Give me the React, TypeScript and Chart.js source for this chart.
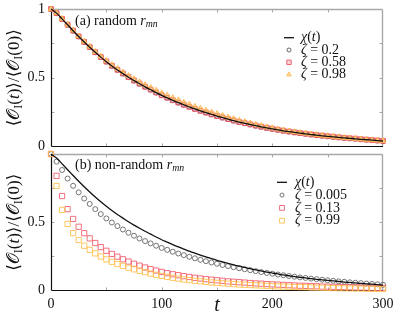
import React, { useEffect, useRef } from "react";
import { Chart, registerables } from "chart.js";

Chart.register(...registerables);

const tValues = [
  0, 5, 10, 15, 20, 25, 30, 35, 40, 45, 50, 55, 60, 65, 70, 75, 80, 85, 90, 95,
  100, 105, 110, 115, 120, 125, 130, 135, 140, 145, 150, 155, 160, 165, 170, 175, 180, 185, 190, 195,
  200, 205, 210, 215, 220, 225, 230, 235, 240, 245, 250, 255, 260, 265, 270, 275, 280, 285, 290, 295, 300,
];

const chi = [
  1.0, 0.97, 0.928, 0.885, 0.842, 0.8, 0.76, 0.722, 0.685, 0.65, 0.617, 0.586, 0.557, 0.53, 0.504, 0.479, 0.456, 0.434, 0.413, 0.392,
  0.372, 0.354, 0.336, 0.319, 0.303, 0.288, 0.273, 0.259, 0.246, 0.233, 0.221, 0.21, 0.199, 0.188, 0.178, 0.169, 0.16, 0.151, 0.143, 0.135,
  0.128, 0.121, 0.114, 0.108, 0.102, 0.097, 0.092, 0.087, 0.082, 0.078, 0.074, 0.07, 0.066, 0.062, 0.059, 0.056, 0.052, 0.049, 0.046, 0.043, 0.04,
];

const topZeta02 = [
  1.0, 0.969, 0.927, 0.885, 0.842, 0.8, 0.76, 0.722, 0.685, 0.65, 0.617, 0.586, 0.557, 0.53, 0.504, 0.479, 0.456, 0.434, 0.413, 0.392,
  0.372, 0.354, 0.336, 0.319, 0.303, 0.288, 0.273, 0.259, 0.246, 0.233, 0.221, 0.21, 0.199, 0.188, 0.178, 0.169, 0.16, 0.151, 0.143, 0.135,
  0.128, 0.121, 0.114, 0.108, 0.102, 0.097, 0.092, 0.087, 0.082, 0.078, 0.074, 0.07, 0.066, 0.062, 0.059, 0.056, 0.052, 0.049, 0.046, 0.043, 0.04,
];

const topZeta058 = [
  1.0, 0.97, 0.928, 0.886, 0.843, 0.801, 0.761, 0.723, 0.686, 0.651, 0.618, 0.587, 0.558, 0.531, 0.505, 0.48, 0.457, 0.435, 0.414, 0.393,
  0.373, 0.355, 0.337, 0.32, 0.304, 0.289, 0.274, 0.26, 0.247, 0.234, 0.222, 0.211, 0.2, 0.189, 0.179, 0.17, 0.161, 0.152, 0.144, 0.136,
  0.129, 0.122, 0.115, 0.109, 0.103, 0.098, 0.093, 0.088, 0.083, 0.079, 0.075, 0.071, 0.067, 0.063, 0.06, 0.057, 0.053, 0.05, 0.047, 0.044, 0.041,
];

const topZeta098 = [
  1.0, 0.971, 0.93, 0.887, 0.845, 0.803, 0.764, 0.727, 0.69, 0.656, 0.624, 0.594, 0.566, 0.54, 0.515, 0.491, 0.469, 0.448, 0.428, 0.408,
  0.389, 0.371, 0.354, 0.337, 0.321, 0.306, 0.291, 0.277, 0.263, 0.25, 0.237, 0.225, 0.213, 0.201, 0.19, 0.18, 0.17, 0.16, 0.151, 0.142,
  0.134, 0.126, 0.119, 0.112, 0.106, 0.1, 0.095, 0.09, 0.085, 0.08, 0.076, 0.072, 0.068, 0.064, 0.06, 0.057, 0.053, 0.05, 0.047, 0.044, 0.041,
];

const botZeta0005 = [
  1.0, 0.944, 0.883, 0.82, 0.767, 0.719, 0.674, 0.634, 0.596, 0.56, 0.528, 0.498, 0.472, 0.447, 0.423, 0.401, 0.381, 0.362, 0.345, 0.328,
  0.312, 0.298, 0.284, 0.271, 0.259, 0.247, 0.236, 0.225, 0.215, 0.205, 0.196, 0.187, 0.179, 0.171, 0.163, 0.156, 0.149, 0.142, 0.135, 0.129,
  0.123, 0.117, 0.112, 0.106, 0.101, 0.096, 0.092, 0.087, 0.083, 0.079, 0.075, 0.071, 0.067, 0.064, 0.06, 0.057, 0.054, 0.051, 0.048, 0.045, 0.042,
];

const botZeta013 = [
  1.0, 0.84, 0.692, 0.596, 0.524, 0.467, 0.42, 0.382, 0.348, 0.318, 0.291, 0.268, 0.248, 0.229, 0.212, 0.196, 0.182, 0.169, 0.157, 0.146,
  0.136, 0.127, 0.119, 0.112, 0.105, 0.099, 0.093, 0.088, 0.083, 0.079, 0.075, 0.071, 0.067, 0.064, 0.061, 0.058, 0.055, 0.052, 0.05, 0.047,
  0.045, 0.043, 0.041, 0.039, 0.037, 0.035, 0.034, 0.032, 0.031, 0.029, 0.028, 0.027, 0.026, 0.025, 0.024, 0.023, 0.022, 0.021, 0.02, 0.019, 0.018,
];

const botZeta099 = [
  1.0, 0.766, 0.59, 0.488, 0.42, 0.37, 0.328, 0.298, 0.272, 0.249, 0.228, 0.21, 0.194, 0.18, 0.167, 0.155, 0.144, 0.134, 0.124, 0.115,
  0.107, 0.1, 0.093, 0.087, 0.081, 0.076, 0.071, 0.067, 0.063, 0.059, 0.056, 0.053, 0.05, 0.047, 0.044, 0.042, 0.04, 0.038, 0.036, 0.034,
  0.032, 0.03, 0.029, 0.027, 0.026, 0.025, 0.024, 0.022, 0.021, 0.02, 0.019, 0.018, 0.017, 0.016, 0.015, 0.015, 0.014, 0.013, 0.012, 0.012, 0.011,
];

const xTickLabels = ["0", "100", "200", "300"];
const topYTickLabels = ["0", "0.5", "1"];
const botYTickLabels = ["0", "0.5", ""];
const minorXTicks = [50, 100, 150, 200, 250];
const minorYTicks = [0.25, 0.5, 0.75];

const topLegend = ["χ(t)", "ζ = 0.2", "ζ = 0.58", "ζ = 0.98"];
const botLegend = ["χ(t)", "ζ = 0.005", "ζ = 0.13", "ζ = 0.99"];

const FONT = "'Liberation Serif', 'DejaVu Serif', serif";

type Seg = { t: string; i?: boolean; sub?: boolean };

function drawRich(ctx: CanvasRenderingContext2D, x: number, y: number, segs: Seg[], size: number, draw = true) {
  let cx = x;
  for (const s of segs) {
    const fs = s.sub ? size * 0.7 : size;
    ctx.font = `${s.i ? "italic " : ""}${fs}px ${FONT}`;
    if (draw) ctx.fillText(s.t, cx, s.sub ? y + size * 0.25 : y);
    cx += ctx.measureText(s.t).width;
  }
  return cx - x;
}

function mathSegs(s: string): Seg[] {
  const out: Seg[] = [];
  for (const ch of s) out.push({ t: ch, i: "χζt".includes(ch) });
  return out;
}

const toPts = (ys: number[]) => tValues.map((t, i) => ({ x: t, y: ys[i] }));

const decorPlugin = {
  id: "panelDecor",
  beforeDraw(chart: any) {
    const { ctx, chartArea } = chart;
    const { top, bottom } = chartArea;
    ctx.save();
    ctx.fillStyle = "#111";
    ctx.textBaseline = "middle";
    ctx.textAlign = "left";
    const ySegs: Seg[] = [
      { t: "⟨𝒪" },
      { t: "I", sub: true },
      { t: "(" },
      { t: "t", i: true },
      { t: ")⟩/⟨𝒪" },
      { t: "I", sub: true },
      { t: "(0)⟩" },
    ];
    const ysz = 17;
    const w = drawRich(ctx, 0, 0, ySegs, ysz, false);
    ctx.translate(15, (top + bottom) / 2);
    ctx.rotate(-Math.PI / 2);
    drawRich(ctx, -w / 2, 0, ySegs, ysz);
    ctx.restore();
  },
  beforeDatasetsDraw(chart: any) {
    const { ctx, chartArea } = chart;
    const { left, right, top, bottom } = chartArea;
    const xs = chart.scales.x;
    const ys = chart.scales.y;
    const L = Math.round(left) + 0.5;
    const R = Math.round(right) - 0.5;
    const T = Math.round(top) + 0.5;
    const B = Math.round(bottom) - 0.5;
    const seg = (a: number, b: number, c: number, d: number) => {
      ctx.beginPath();
      ctx.moveTo(a, b);
      ctx.lineTo(c, d);
      ctx.stroke();
    };
    ctx.save();
    ctx.lineWidth = 1.4;
    ctx.strokeStyle = "#a8a8a8";
    seg(L, T, R, T);
    seg(R, T, R, B);
    ctx.lineWidth = 1;
    for (const v of minorXTicks) {
      const px = Math.round(xs.getPixelForValue(v)) + 0.5;
      seg(px, T, px, T + 3);
      seg(px, B, px, B - 3);
    }
    for (const v of minorYTicks) {
      const py = Math.round(ys.getPixelForValue(v)) + 0.5;
      seg(L, py, L + 3, py);
      seg(R, py, R - 3, py);
    }
    ctx.lineWidth = 1.2;
    ctx.strokeStyle = "#111";
    seg(L, top, L, B);
    seg(L, B, right, B);
    ctx.restore();
  },
  afterDraw(chart: any, _args: any, opts: any) {
    const { ctx, chartArea } = chart;
    const { left, right, bottom, top } = chartArea;
    ctx.save();
    ctx.textBaseline = "middle";
    ctx.fillStyle = "#111";
    ctx.textAlign = "left";

    drawRich(ctx, left + 24, top + opts.labelDy, [
      { t: opts.panelText },
      { t: "r", i: true },
      { t: "mn", i: true, sub: true },
    ], 14);

    const ds = chart.data.datasets;
    const labels: string[] = opts.legend;
    labels.forEach((lab, i) => {
      const yy = top + opts.legendDy + i * opts.legendStep;
      const mx = right - opts.markerDx;
      const d = ds[i];
      ctx.save();
      if (d.showLine) {
        ctx.strokeStyle = d.borderColor;
        ctx.lineWidth = 1.3;
        ctx.beginPath();
        ctx.moveTo(mx - 5, yy);
        ctx.lineTo(mx + 5, yy);
        ctx.stroke();
      } else {
        ctx.strokeStyle = d.borderColor;
        ctx.fillStyle = d.backgroundColor;
        ctx.lineWidth = d.pointBorderWidth;
        const r = d.legendRadius;
        ctx.beginPath();
        if (d.pointStyle === "circle") ctx.arc(mx, yy, r, 0, Math.PI * 2);
        else if (d.pointStyle === "rect") ctx.rect(mx - r, yy - r, 2 * r, 2 * r);
        else {
          ctx.moveTo(mx, yy - r);
          ctx.lineTo(mx + r * 0.866, yy + r * 0.5);
          ctx.lineTo(mx - r * 0.866, yy + r * 0.5);
          ctx.closePath();
        }
        ctx.fill();
        ctx.stroke();
      }
      ctx.restore();
      ctx.fillStyle = "#111";
      drawRich(ctx, right - opts.textDx, yy, mathSegs(lab), 14);
    });

    if (opts.xTitle) {
      ctx.textAlign = "center";
      ctx.font = `italic 20px ${FONT}`;
      ctx.fillText("t", (left + right) / 2, bottom + 15);
    }
    ctx.restore();
  },
};

function yScale(labels: string[]) {
  return {
    type: "linear" as const,
    min: 0,
    max: 1,
    grid: { display: false, drawTicks: false },
    border: { display: false },
    afterFit: (s: any) => {
      s.width = 51;
      s.paddingTop = 0;
      s.paddingBottom = 0;
    },
    ticks: {
      stepSize: 0.5,
      autoSkip: false,
      padding: 6,
      color: "#111",
      font: { family: FONT, size: 14 },
      callback: (_v: any, i: number) => labels[i],
    },
  };
}

function makeDatasets(series: { data: number[]; kind: string; color: string; fill: string; r: number; lr: number; order: number }[]) {
  const sets: any[] = [
    {
      type: "line",
      label: "χ(t)",
      data: toPts(chi),
      borderColor: "#111",
      borderWidth: 1.3,
      pointRadius: 0,
      showLine: true,
      tension: 0.3,
      order: 0,
      clip: false,
    },
  ];
  for (const s of series) {
    sets.push({
      type: "scatter",
      data: toPts(s.data),
      showLine: false,
      pointStyle: s.kind,
      pointRadius: s.r,
      pointBorderWidth: 0.9,
      borderColor: s.color,
      backgroundColor: s.fill,
      pointBackgroundColor: s.fill,
      pointBorderColor: s.color,
      legendRadius: s.lr,
      order: s.order,
      clip: false,
    });
  }
  return sets;
}

export default function App() {
  const topRef = useRef<HTMLCanvasElement>(null);
  const botRef = useRef<HTMLCanvasElement>(null);

  useEffect(() => {
    const topChart = new Chart(topRef.current as HTMLCanvasElement, {
      type: "scatter",
      data: {
        datasets: makeDatasets([
          { data: topZeta02, kind: "circle", color: "#555", fill: "rgba(0,0,0,0)", r: 2.4, lr: 2.0, order: 3 },
          { data: topZeta058, kind: "rect", color: "#ee5566", fill: "rgba(238,85,102,0.25)", r: 3.4, lr: 2.2, order: 2 },
          { data: topZeta098, kind: "triangle", color: "#ffb84d", fill: "rgba(255,200,110,0.6)", r: 3.2, lr: 2.6, order: 1 },
        ]),
      },
      options: {
        animation: false,
        responsive: false,
        devicePixelRatio: 1,
        layout: { padding: { top: 9, right: 12, bottom: 5.5, left: 0 } },
        scales: {
          x: { type: "linear", min: 0, max: 300, display: false },
          y: yScale(topYTickLabels),
        },
        plugins: {
          legend: { display: false },
          tooltip: { enabled: false },
          panelDecor: {
            panelText: "(a) random ",
            labelDy: 12,
            legend: topLegend,
            legendDy: 28.7,
            legendStep: 12.3,
            markerDx: 94,
            textDx: 82,
            xTitle: false,
          },
        } as any,
      },
      plugins: [decorPlugin],
    } as any);

    const botChart = new Chart(botRef.current as HTMLCanvasElement, {
      type: "scatter",
      data: {
        datasets: makeDatasets([
          { data: botZeta0005, kind: "circle", color: "#666", fill: "rgba(0,0,0,0)", r: 2.5, lr: 2.0, order: 3 },
          { data: botZeta013, kind: "rect", color: "#f06070", fill: "rgba(0,0,0,0)", r: 3.7, lr: 2.4, order: 2 },
          { data: botZeta099, kind: "rect", color: "#ffc050", fill: "rgba(0,0,0,0)", r: 3.7, lr: 2.4, order: 1 },
        ]),
      },
      options: {
        animation: false,
        responsive: false,
        devicePixelRatio: 1,
        layout: { padding: { top: 6, right: 12, bottom: 0, left: 0 } },
        scales: {
          x: {
            type: "linear",
            min: 0,
            max: 300,
            grid: { display: false, drawTicks: false },
            border: { display: false },
            afterFit: (s: any) => {
              s.height = 25.5;
              s.paddingLeft = 0;
              s.paddingRight = 0;
            },
            ticks: {
              stepSize: 100,
              autoSkip: false,
              padding: 5,
              color: "#111",
              maxRotation: 0,
              font: { family: FONT, size: 14 },
              callback: (_v: any, i: number) => xTickLabels[i],
            },
          },
          y: yScale(botYTickLabels),
        },
        plugins: {
          legend: { display: false },
          tooltip: { enabled: false },
          panelDecor: {
            panelText: "(b) non-random ",
            labelDy: 11,
            legend: botLegend,
            legendDy: 28.3,
            legendStep: 12.8,
            markerDx: 101,
            textDx: 88,
            xTitle: true,
          },
        } as any,
      },
      plugins: [decorPlugin],
    } as any);

    return () => {
      topChart.destroy();
      botChart.destroy();
    };
  }, []);

  return (
    <div style={{ position: "fixed", left: 0, top: 0, width: 395, height: 316, background: "#fff" }}>
      <canvas
        ref={topRef}
        width={395}
        height={152}
        style={{ position: "absolute", left: 0, top: 0, width: 395, height: 152, display: "block" }}
      />
      <canvas
        ref={botRef}
        width={395}
        height={168}
        style={{ position: "absolute", left: 0, top: 148, width: 395, height: 168, display: "block" }}
      />
    </div>
  );
}
